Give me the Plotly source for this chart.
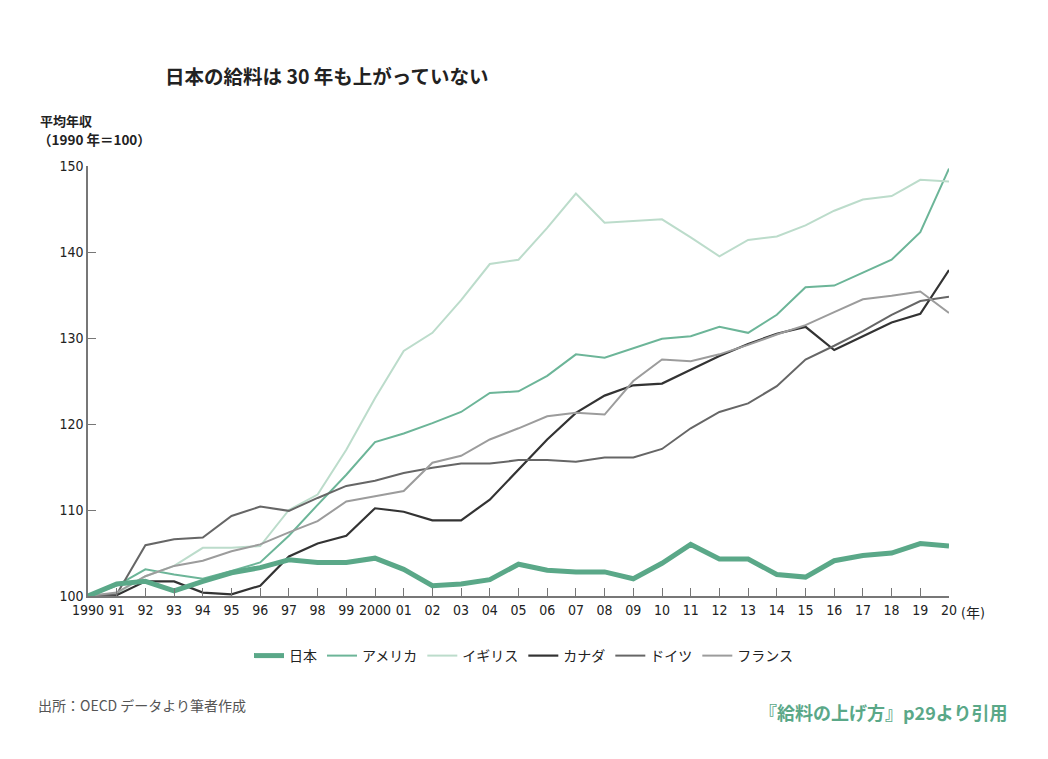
import plotly.graph_objects as go

years = list(range(1990, 2021))
tick_labels = ["1990", "91", "92", "93", "94", "95", "96", "97", "98", "99", "2000",
               "01", "02", "03", "04", "05", "06", "07", "08", "09", "10",
               "11", "12", "13", "14", "15", "16", "17", "18", "19", "20"]

japan = [100, 101.4, 101.7, 100.6, 101.7, 102.7, 103.3, 104.2, 103.9, 103.9, 104.4,
         103.1, 101.2, 101.4, 101.9, 103.7, 103.0, 102.8, 102.8, 102.0, 103.8,
         106.0, 104.3, 104.3, 102.5, 102.2, 104.1, 104.7, 105.0, 106.1, 105.8]
usa = [100, 101.2, 103.1, 102.5, 102.0, 102.9, 103.9, 107.0, 110.6, 114.1, 117.9,
       118.9, 120.1, 121.4, 123.6, 123.8, 125.6, 128.1, 127.7, 128.8, 129.9,
       130.2, 131.3, 130.6, 132.7, 135.9, 136.1, 137.6, 139.1, 142.3, 149.7]
uk = [100, 100.3, 102.3, 103.5, 105.6, 105.6, 105.8, 110.0, 111.8, 117.0, 123.0,
      128.5, 130.6, 134.4, 138.6, 139.1, 142.8, 146.8, 143.4, 143.6, 143.8,
      141.7, 139.5, 141.4, 141.8, 143.1, 144.8, 146.1, 146.5, 148.4, 148.2]
canada = [100, 100.1, 101.7, 101.7, 100.4, 100.2, 101.2, 104.6, 106.1, 107.0, 110.2,
          109.8, 108.8, 108.8, 111.2, 114.7, 118.2, 121.3, 123.3, 124.5, 124.7,
          126.3, 127.9, 129.3, 130.5, 131.3, 128.6, 130.2, 131.8, 132.8, 137.9]
germany = [100, 100.2, 105.9, 106.6, 106.8, 109.3, 110.4, 109.9, 111.4, 112.8, 113.4,
           114.3, 114.9, 115.4, 115.4, 115.8, 115.8, 115.6, 116.1, 116.1, 117.1,
           119.5, 121.4, 122.4, 124.4, 127.5, 129.1, 130.8, 132.7, 134.3, 134.8]
france = [100, 100.4, 102.3, 103.5, 104.1, 105.2, 106.0, 107.4, 108.7, 111.0, 111.6,
          112.2, 115.5, 116.3, 118.2, 119.5, 120.9, 121.3, 121.1, 125.0, 127.5,
          127.3, 128.1, 129.2, 130.4, 131.5, 133.0, 134.5, 134.9, 135.4, 132.9]

series = [
    ("日本", japan, "#5aa888", 5),
    ("アメリカ", usa, "#6cb598", 2),
    ("イギリス", uk, "#bcdccb", 2),
    ("カナダ", canada, "#333333", 2.2),
    ("ドイツ", germany, "#666666", 2),
    ("フランス", france, "#9c9c9c", 2),
]

fig = go.Figure()
# draw thin lines first, Japan on top; legend order kept via legendrank
order = series[1:] + series[:1]
for name, vals, color, w in order:
    rank = [s[0] for s in series].index(name)
    fig.add_trace(go.Scatter(x=years, y=vals, mode="lines", name=name,
                             legendrank=rank + 1,
                             line=dict(color=color, width=w)))

cjk = "Noto Sans CJK JP"
narrow = "DejaVu Sans Condensed, Noto Sans CJK JP"

# page body offsets the figure by 8px; plot area targeted at x 88..949, y 166..596
OFF = 8
L, T = 88 - OFF, 166 - OFF
PW, PH = 861, 430


def px(x):
    return (x - OFF - L) / PW


def py(y):
    return (T + PH - (y - OFF)) / PH


fig.update_layout(
    width=1048, height=759,
    margin=dict(l=L, r=1048 - L - PW, t=T, b=759 - T - PH),
    paper_bgcolor="white", plot_bgcolor="white",
    font=dict(family=cjk, color="#222"),
    showlegend=True,
    legend=dict(orientation="h", x=px(524), xanchor="center", y=py(656), yanchor="middle",
                font=dict(family=cjk, size=14, color="#222"),
                itemwidth=30),
    xaxis=dict(range=[1990, 2020], tickmode="array", tickvals=years, ticktext=tick_labels,
               showline=True, linecolor="#777", linewidth=1.5, ticks="inside",
               ticklen=8, tickcolor="#777", showgrid=False, zeroline=False,
               tickfont=dict(family=narrow, size=14, color="#222")),
    yaxis=dict(range=[100, 150], tickvals=[100, 110, 120, 130, 140, 150],
               showline=True, linecolor="#777", linewidth=1.5, ticks="inside",
               ticklen=8, tickcolor="#777", showgrid=False, zeroline=False,
               tickfont=dict(family=narrow, size=14, color="#222")),
    annotations=[
        dict(text="<b>日本の給料は 30 年も上がっていない</b>", xref="paper", yref="paper",
             x=px(163), y=py(75), xanchor="left", yanchor="middle",
             showarrow=False, font=dict(family=cjk, size=19.5, color="#222")),
        dict(text="<b>平均年収</b>", xref="paper", yref="paper",
             x=px(38), y=py(120), xanchor="left", yanchor="middle",
             showarrow=False, font=dict(family=cjk, size=13, color="#222")),
        dict(text="<b>（1990 年＝100）</b>", xref="paper", yref="paper",
             x=px(36), y=py(139), xanchor="left", yanchor="middle",
             showarrow=False, font=dict(family=cjk, size=13.5, color="#222")),
        dict(text="(年)", xref="paper", yref="paper",
             x=px(959), y=py(613), xanchor="left", yanchor="middle",
             showarrow=False, font=dict(family=narrow, size=14, color="#222")),
        dict(text="出所：OECD データより筆者作成", xref="paper", yref="paper",
             x=px(36), y=py(705), xanchor="left", yanchor="middle",
             showarrow=False, font=dict(family=cjk, size=14, color="#555")),
        dict(text="<b>『給料の上げ方』p29より引用</b>", xref="paper", yref="paper",
             x=px(1009), y=py(712), xanchor="right", yanchor="middle",
             showarrow=False, font=dict(family=cjk, size=18, color="#5aa888")),
    ],
)

fig.write_html("out.html")
